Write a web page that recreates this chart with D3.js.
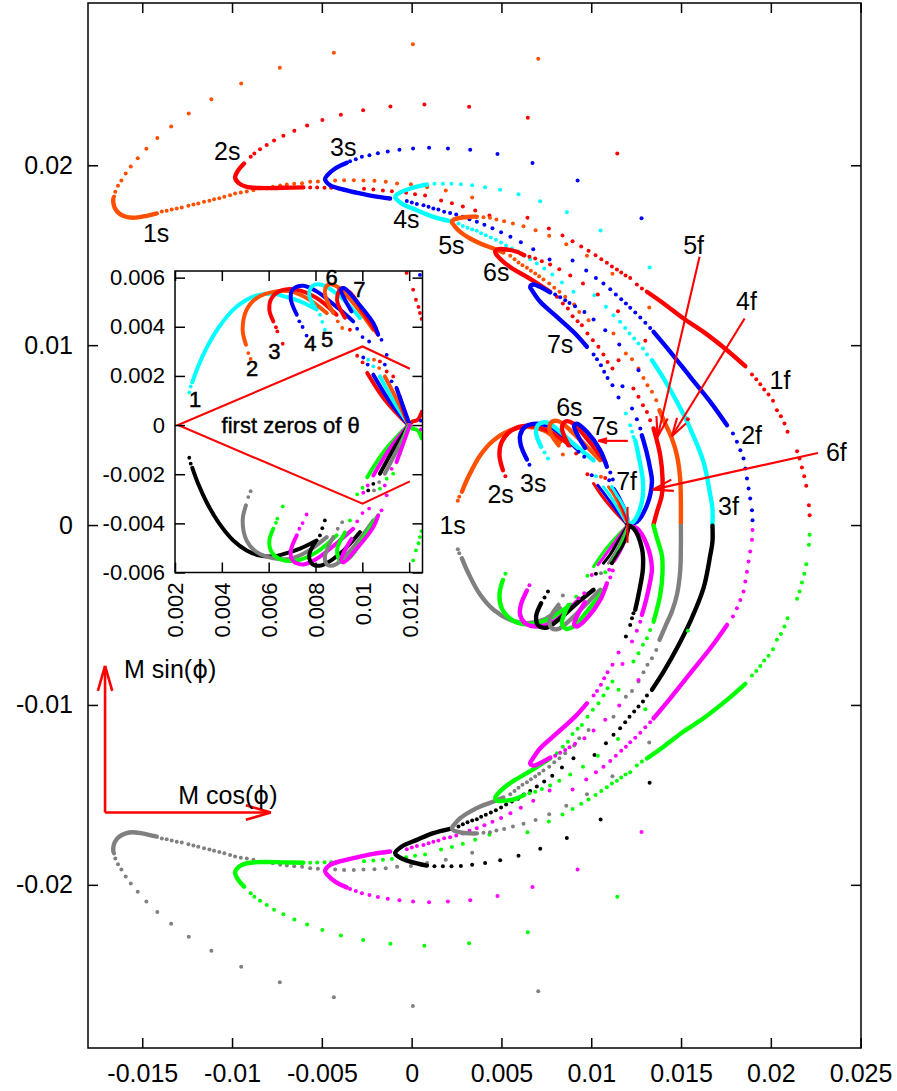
<!DOCTYPE html>
<html>
<head>
<meta charset="utf-8">
<style>
html, body { margin: 0; padding: 0; background: #fff; }
text { font-family: "Liberation Sans", Arial, sans-serif; fill: #000; }
</style>
<script src="https://cdn.jsdelivr.net/npm/d3@7"></script>
</head>
<body>
<div id="vis"></div>
<script>
const xTicks = [-15, -10, -5, 0, 5, 10, 15, 20, 25];
const yTicks = [-20, -10, 0, 10, 20];
const insetXTicks = [2, 4, 6, 8, 10, 12];
const insetYTicks = [-6, -4, -2, 0, 2, 4, 6];

// upper half, main plot
const orange1Dots = [[7.05,25.92],[0.07,26.73],[-4.33,26.25],[-7.34,25.42],[-9.49,24.55],[-11.15,23.67],[-12.41,22.88],[-13.39,22.16],[-14.16,21.51],[-14.77,20.92],[-15.25,20.39],[-15.64,19.93],[-15.92,19.54],[-16.16,19.15],[-16.35,18.86],[-16.5,18.53],[-16.57,18.26],
  [-13.91,17.43],[-13.64,17.47],[-13.36,17.54],[-13.08,17.6],[-12.8,17.65],[-12.43,17.75],[-12.15,17.82],[-11.88,17.88],[-11.56,17.97],[-11.26,18.03],[-11,18.11],[-10.71,18.17],[-10.43,18.25],[-10.11,18.34],[-9.83,18.43],[-9.51,18.49],[-9.18,18.54],[-8.81,18.61],[-8.07,18.75],[-7.73,18.8],[-7.32,18.88],[-6.95,18.93],[-6.54,18.97],[-6.1,19],[-5.65,19.08],[-5.22,19.1],[-4.26,19.15],[-3.76,19.17],[-3.22,19.17],[-2.68,19.15],[-2.07,19.14],[-1.44,19.08],[-0.81,18.99],[-0.04,18.95],[0.86,18.78],[1.9,18.6],[3.37,18.21]];
const orange1Thick = [[-16.61,18.15],[-16.61,17.93],[-16.54,17.65],[-16.33,17.36],[-15.96,17.15],[-15.5,17.08],[-14.75,17.19],[-14.19,17.32]];
const orange5Dots = [[4,17.11],[4.36,17.08],[4.72,16.98],[5.15,16.89],[5.64,16.76],[6.23,16.61],[6.9,16.39],[7.66,16.08],[8.61,15.61],[9.76,14.97],[11.18,13.97],[13.23,12.09],
  [5.49,14.97],[5.73,14.78],[5.95,14.6],[6.17,14.44],[6.42,14.3],[6.64,14.13],[6.88,13.98],[7.1,13.83],[7.34,13.65],[7.66,13.43],[7.94,13.19],[8.23,12.97],[8.55,12.69],[9.05,12.26],[9.33,11.85],[9.85,11.39],[11.24,10.65],[11.93,9.54],[12.27,9.22],[12.63,8.7],[12.91,8.18],[13.13,7.77],[13.38,7.41],[13.62,6.94]];
const orange5Thick = [[3.63,17.14],[3.26,17.14],[2.7,17.08],[2.34,16.98],[2.24,16.85],[2.37,16.65],[2.7,16.3],[3.26,15.93],[3.82,15.65],[4.56,15.37],[5.11,15.15]];
const orange4fThick = [[13.8,6.38],[14.12,5.64],[14.49,4.81],[14.77,3.88],[14.95,2.59],[14.99,1.29],[14.99,0.03]];

const red2Dots = [[-8.96,20.47],[-8.76,20.66],[-8.44,20.89],[-8.07,21.12],[-7.66,21.38],[-7.14,21.64],[-6.53,21.92],[-5.82,22.21],[-4.97,22.51],[-3.94,22.81],[-2.7,23.06],[-1.18,23.27],[0.71,23.38],[3.2,23.25],[6.47,22.64],[11.45,20.66],
  [-5.65,18.77],[-5.26,18.76],[-4.85,18.75],[-4.48,18.75],[-2.65,18.69],[-2.13,18.65],[-1.6,18.6],[-1.1,18.56],[-0.31,18.47],[0.19,18.39],[0.75,18.32],[1.64,18.04],[2.24,17.89],[2.85,17.71],[3.54,17.49],[4.33,17.21],[6.45,17.08],[7.64,16.48],[8.4,16.09],[8.96,15.78],[9.44,15.49],[9.85,15.25],[10.24,15],[10.56,14.78],[10.87,14.58],[11.15,14.37],[11.43,14.21],[11.67,14.04],[11.91,13.87],[12.17,13.74],[12.54,13.37],[12.82,13.15],
  [18.95,8.37],[19.19,8.11],[19.41,7.83],[19.63,7.53],[19.87,7.26],[20.12,6.91],[20.34,6.38],[20.56,6.05],[20.76,5.64],[20.93,5.18],[21.46,4.1],[21.6,3.7],[21.73,3.2],[21.86,2.71],[21.97,2.18],[22.12,1.1],[22.16,0.54]];
const red2Thick = [[-9.33,20.1],[-9.65,19.73],[-9.83,19.32],[-9.61,18.99],[-9.18,18.8],[-8.25,18.73],[-7.14,18.75],[-6.03,18.77]];
const red1fThick = [[13.1,12.97],[14.03,12.32],[15.14,11.48],[16.25,10.74],[17.56,9.72],[18.58,8.83]];

const blue3Dots = [[-3.43,20.23],[-3.11,20.34],[-2.77,20.47],[-2.35,20.56],[-1.88,20.67],[-1.33,20.77],[-0.68,20.86],[0.08,20.93],[0.97,20.97],[2.02,20.93],[3.26,20.86],[4.78,20.62],[6.73,20.12],[9.24,19.15],[12.8,17.06],
  [-0.27,18.02],[0.01,17.93],[0.29,17.84],[0.66,17.78],[0.94,17.69],[1.21,17.6],[1.49,17.54],[1.81,17.41],[2.14,17.35],[2.48,17.26],[2.85,17.14],[3.22,17],[3.63,16.86],[4.05,16.69],[4.5,16.5],[4.98,16.28],[5.5,16.02],[6.08,15.72],[6.77,15.33],[7.68,14.76],[8.96,14.7],[9.72,14.15],[10.26,13.74],[10.68,13.43],[11.06,13.11],[11.37,12.82],[11.67,12.55],[11.93,12.32],[12.17,12.08],[12.45,11.82],[12.73,11.54],[13.01,11.24],[13.28,10.96],
  [17.89,5.09],[18.11,4.63],[18.3,4.16],[18.48,3.7],[18.58,3.14],[18.67,2.59],[18.76,2.03],[18.85,1.47],[18.95,0.82],[18.98,0.27]];
const blue3Thick = [[-3.61,20.14],[-4.26,19.82],[-4.69,19.45],[-4.82,19.23],[-4.54,18.89],[-3.89,18.67],[-3.05,18.47],[-2.13,18.28],[-1.2,18.15]];
const blue2fThick = [[13.47,10.74],[14.4,9.63],[15.51,8.24],[16.63,6.85],[17.56,5.55]];

const cyan4Dots = [[1.27,18.97],[1.74,18.97],[2.22,18.97],[2.74,18.95],[3.37,18.89],[4.09,18.78],[4.93,18.64],[5.95,18.39],[7.16,18],[8.64,17.39],[10.52,16.37],[13.25,14.32],
  [2.61,16.76],[2.85,16.63],[3.11,16.52],[3.37,16.43],[3.63,16.36],[3.87,16.22],[4.13,16.11],[4.41,15.98],[4.69,15.86],[4.98,15.7],[5.26,15.54],[5.58,15.37],[5.93,15.21],[6.25,14.98],[6.6,14.78],[6.97,14.54],[7.38,14.26],[7.83,13.93],[8.37,13.48],[9.01,12.97],[10.18,12.78],[10.82,12.13],[11.24,11.66],[11.61,11.3],[11.89,10.96],[12.13,10.65],[12.39,10.37],[12.63,10.09],[12.88,9.81],[13.1,9.48]];
const cyan4Thick = [[0.85,18.93],[-0.08,18.71],[-0.74,18.43],[-0.92,18.25],[-0.55,17.87],[0.29,17.5],[1.21,17.13],[2.14,16.89]];
const cyan3fThick = [[13.38,9.16],[14.03,8.15],[14.77,6.85],[15.51,5.37],[16.25,3.51],[16.63,1.66],[16.75,0.92],[16.75,0.03]];

const red6Dots = [[6.56,14.91],[6.88,14.82],[7.25,14.67],[7.71,14.48],[8.22,14.22],[8.83,13.87],[9.54,13.43],[10.37,12.82],[11.49,11.89],[13.01,10.24],[15.38,5.88],
  [8.09,12.69],[8.42,12.32],[8.7,12.04],[8.96,11.61],[9.24,11.33],[9.48,11.11],[9.79,10.65],[10.09,10.27],[10.4,9.91],[10.68,9.48],[10.91,9.07],[11.18,8.7],[11.52,9.16],[12.35,7.59],[12.63,7.13],[12.88,6.66],[13.1,6.29],[13.28,5.83]];
const red6Thick = [[6.27,15],[5.86,15.19],[5.3,15.32],[4.76,15.32],[4.65,15.19],[4.76,14.98],[5.11,14.63],[5.67,14.22],[6.51,13.74],[7.71,12.97]];
const red6fThick = [[13.47,5.37],[13.84,3.88],[13.97,2.59],[13.93,1.66],[13.66,0.73],[13.47,0.03]];

const blue7Dots = [[7.99,12.82],[8.27,12.66],[8.55,12.5],[8.79,12.35],[9.1,12.16],[9.62,11.85],[10.13,11.42],[10.78,10.83],[11.56,10.03],[12.63,8.61],
  [10.13,9.48],[10.32,9.22],[10.54,8.88],[10.72,8.52],[10.91,8.18],[11.18,7.77],[11.74,7.72],[11.52,7.09],[12.27,6.48],[12.54,5.88],[12.73,5.37]];
const blue7Thick = [[7.71,12.93],[7.25,13.19],[6.78,13.37],[6.6,13.24],[6.71,13.04],[7.16,12.41],[8.09,11.57],[9.1,10.65],[9.76,9.91]];
const blue7fThick = [[12.82,4.99],[13.06,4.14],[13.28,3.14],[13.38,2.4],[13.1,1.1],[12.54,0.18],[12.06,0.03]];

const cyanInnerDots = [[11.93,6.2],[12.17,5.55],[12.27,5.18],[12.35,4.9]];
const cyanInnerThick = [[12.45,4.71],[12.63,3.88],[12.88,2.4],[12.82,1.29],[12.35,0.18],[11.99,0]];

// lower half, main plot
const gray1Dots = [[7.05,-25.92],[0.07,-26.73],[-4.33,-26.25],[-7.34,-25.42],[-9.49,-24.55],[-11.15,-23.67],[-12.41,-22.88],[-13.39,-22.16],[-14.16,-21.51],[-14.77,-20.92],[-15.25,-20.39],[-15.64,-19.93],[-15.92,-19.54],[-16.16,-19.15],[-16.35,-18.86],[-16.5,-18.53],[-16.57,-18.26],
  [-13.91,-17.43],[-13.64,-17.47],[-13.36,-17.54],[-13.08,-17.6],[-12.8,-17.65],[-12.43,-17.75],[-12.15,-17.82],[-11.88,-17.88],[-11.56,-17.97],[-11.26,-18.03],[-11,-18.11],[-10.71,-18.17],[-10.43,-18.25],[-10.11,-18.34],[-9.83,-18.43],[-9.51,-18.49],[-9.18,-18.54],[-8.81,-18.61],[-8.07,-18.75],[-7.73,-18.8],[-7.32,-18.88],[-6.95,-18.93],[-6.54,-18.97],[-6.1,-19],[-5.65,-19.08],[-5.22,-19.1],[-4.26,-19.15],[-3.76,-19.17],[-3.22,-19.17],[-2.68,-19.15],[-2.07,-19.14],[-1.44,-19.08],[-0.81,-18.99],[-0.04,-18.95],[0.86,-18.78],[1.9,-18.6],[3.37,-18.21]];
const gray1Thick = [[-16.61,-18.15],[-16.61,-17.93],[-16.54,-17.65],[-16.33,-17.36],[-15.96,-17.15],[-15.5,-17.08],[-14.75,-17.19],[-14.19,-17.32]];
const gray5Dots = [[4,-17.11],[4.36,-17.08],[4.72,-16.98],[5.15,-16.89],[5.64,-16.76],[6.23,-16.61],[6.9,-16.39],[7.66,-16.08],[8.61,-15.61],[9.76,-14.97],[11.18,-13.97],[13.23,-12.09],
  [5.49,-14.97],[5.73,-14.78],[5.95,-14.6],[6.17,-14.44],[6.42,-14.3],[6.64,-14.13],[6.88,-13.98],[7.1,-13.83],[7.34,-13.65],[7.66,-13.43],[7.94,-13.19],[8.23,-12.97],[8.55,-12.69],[9.05,-12.26],[9.33,-11.85],[9.85,-11.39],[11.24,-10.65],[11.93,-9.54],[12.27,-9.22],[12.63,-8.7],[12.91,-8.18],[13.13,-7.77],[13.38,-7.41],[13.62,-6.94]];
const gray5Thick = [[3.63,-17.14],[3.26,-17.14],[2.7,-17.08],[2.34,-16.98],[2.24,-16.85],[2.37,-16.65],[2.7,-16.3],[3.26,-15.93],[3.82,-15.65],[4.56,-15.37],[5.11,-15.15]];
const gray4fThick = [[13.8,-6.38],[14.12,-5.64],[14.49,-4.81],[14.77,-3.88],[14.95,-2.59],[14.99,-1.29],[14.99,-0.03]];

const green2Dots = [[-8.96,-20.47],[-8.76,-20.66],[-8.44,-20.89],[-8.07,-21.12],[-7.66,-21.38],[-7.14,-21.64],[-6.53,-21.92],[-5.82,-22.21],[-4.97,-22.51],[-3.94,-22.81],[-2.7,-23.06],[-1.18,-23.27],[0.71,-23.38],[3.2,-23.25],[6.47,-22.64],[11.45,-20.66],
  [-5.65,-18.77],[-5.26,-18.76],[-4.85,-18.75],[-4.48,-18.75],[-2.65,-18.69],[-2.13,-18.65],[-1.6,-18.6],[-1.1,-18.56],[-0.31,-18.47],[0.19,-18.39],[0.75,-18.32],[1.64,-18.04],[2.24,-17.89],[2.85,-17.71],[3.54,-17.49],[4.33,-17.21],[6.45,-17.08],[7.64,-16.48],[8.4,-16.09],[8.96,-15.78],[9.44,-15.49],[9.85,-15.25],[10.24,-15],[10.56,-14.78],[10.87,-14.58],[11.15,-14.37],[11.43,-14.21],[11.67,-14.04],[11.91,-13.87],[12.17,-13.74],[12.54,-13.37],[12.82,-13.15],
  [18.95,-8.37],[19.19,-8.11],[19.41,-7.83],[19.63,-7.53],[19.87,-7.26],[20.12,-6.91],[20.34,-6.38],[20.56,-6.05],[20.76,-5.64],[20.93,-5.18],[21.46,-4.1],[21.6,-3.7],[21.73,-3.2],[21.86,-2.71],[21.97,-2.18],[22.12,-1.1],[22.16,-0.54]];
const green2Thick = [[-9.33,-20.1],[-9.65,-19.73],[-9.83,-19.32],[-9.61,-18.99],[-9.18,-18.8],[-8.25,-18.73],[-7.14,-18.75],[-6.03,-18.77]];
const green1fThick = [[13.1,-12.97],[14.03,-12.32],[15.14,-11.48],[16.25,-10.74],[17.56,-9.72],[18.58,-8.83]];

const magenta3Dots = [[-3.43,-20.23],[-3.11,-20.34],[-2.77,-20.47],[-2.35,-20.56],[-1.88,-20.67],[-1.33,-20.77],[-0.68,-20.86],[0.08,-20.93],[0.97,-20.97],[2.02,-20.93],[3.26,-20.86],[4.78,-20.62],[6.73,-20.12],[9.24,-19.15],[12.8,-17.06],
  [-0.27,-18.02],[0.01,-17.93],[0.29,-17.84],[0.66,-17.78],[0.94,-17.69],[1.21,-17.6],[1.49,-17.54],[1.81,-17.41],[2.14,-17.35],[2.48,-17.26],[2.85,-17.14],[3.22,-17],[3.63,-16.86],[4.05,-16.69],[4.5,-16.5],[4.98,-16.28],[5.5,-16.02],[6.08,-15.72],[6.77,-15.33],[7.68,-14.76],[8.96,-14.7],[9.72,-14.15],[10.26,-13.74],[10.68,-13.43],[11.06,-13.11],[11.37,-12.82],[11.67,-12.55],[11.93,-12.32],[12.17,-12.08],[12.45,-11.82],[12.73,-11.54],[13.01,-11.24],[13.28,-10.96],
  [17.89,-5.09],[18.11,-4.63],[18.3,-4.16],[18.48,-3.7],[18.58,-3.14],[18.67,-2.59],[18.76,-2.03],[18.85,-1.47],[18.95,-0.82],[18.98,-0.27]];
const magenta3Thick = [[-3.61,-20.14],[-4.26,-19.82],[-4.69,-19.45],[-4.82,-19.23],[-4.54,-18.89],[-3.89,-18.67],[-3.05,-18.47],[-2.13,-18.28],[-1.2,-18.15]];
const magenta2fThick = [[13.47,-10.74],[14.4,-9.63],[15.51,-8.24],[16.63,-6.85],[17.56,-5.55]];

const black4Dots = [[1.27,-18.97],[1.74,-18.97],[2.22,-18.97],[2.74,-18.95],[3.37,-18.89],[4.09,-18.78],[4.93,-18.64],[5.95,-18.39],[7.16,-18],[8.64,-17.39],[10.52,-16.37],[13.25,-14.32],
  [2.61,-16.76],[2.85,-16.63],[3.11,-16.52],[3.37,-16.43],[3.63,-16.36],[3.87,-16.22],[4.13,-16.11],[4.41,-15.98],[4.69,-15.86],[4.98,-15.7],[5.26,-15.54],[5.58,-15.37],[5.93,-15.21],[6.25,-14.98],[6.6,-14.78],[6.97,-14.54],[7.38,-14.26],[7.83,-13.93],[8.37,-13.48],[9.01,-12.97],[10.18,-12.78],[10.82,-12.13],[11.24,-11.66],[11.61,-11.3],[11.89,-10.96],[12.13,-10.65],[12.39,-10.37],[12.63,-10.09],[12.88,-9.81],[13.1,-9.48]];
const black4Thick = [[0.85,-18.93],[-0.08,-18.71],[-0.74,-18.43],[-0.92,-18.25],[-0.55,-17.87],[0.29,-17.5],[1.21,-17.13],[2.14,-16.89]];
const black3fThick = [[13.38,-9.16],[14.03,-8.15],[14.77,-6.85],[15.51,-5.37],[16.25,-3.51],[16.63,-1.66],[16.75,-0.92],[16.75,-0.03]];

const green6Dots = [[6.56,-14.91],[6.88,-14.82],[7.25,-14.67],[7.71,-14.48],[8.22,-14.22],[8.83,-13.87],[9.54,-13.43],[10.37,-12.82],[11.49,-11.89],[13.01,-10.24],[15.38,-5.88],
  [8.09,-12.69],[8.42,-12.32],[8.7,-12.04],[8.96,-11.61],[9.24,-11.33],[9.48,-11.11],[9.79,-10.65],[10.09,-10.27],[10.4,-9.91],[10.68,-9.48],[10.91,-9.07],[11.18,-8.7],[11.52,-9.16],[12.35,-7.59],[12.63,-7.13],[12.88,-6.66],[13.1,-6.29],[13.28,-5.83]];
const green6Thick = [[6.27,-15],[5.86,-15.19],[5.3,-15.32],[4.76,-15.32],[4.65,-15.19],[4.76,-14.98],[5.11,-14.63],[5.67,-14.22],[6.51,-13.74],[7.71,-12.97]];
const green6fThick = [[13.47,-5.37],[13.84,-3.88],[13.97,-2.59],[13.93,-1.66],[13.66,-0.73],[13.47,-0.03]];

const magenta7Dots = [[7.99,-12.82],[8.27,-12.66],[8.55,-12.5],[8.79,-12.35],[9.1,-12.16],[9.62,-11.85],[10.13,-11.42],[10.78,-10.83],[11.56,-10.03],[12.63,-8.61],
  [10.13,-9.48],[10.32,-9.22],[10.54,-8.88],[10.72,-8.52],[10.91,-8.18],[11.18,-7.77],[11.74,-7.72],[11.52,-7.09],[12.27,-6.48],[12.54,-5.88],[12.73,-5.37]];
const magenta7Thick = [[7.71,-12.93],[7.25,-13.19],[6.78,-13.37],[6.6,-13.24],[6.71,-13.04],[7.16,-12.41],[8.09,-11.57],[9.1,-10.65],[9.76,-9.91]];
const magenta7fThick = [[12.82,-4.99],[13.06,-4.14],[13.28,-3.14],[13.38,-2.4],[13.1,-1.1],[12.54,-0.18],[12.06,-0.03]];

const blackInnerDots = [[11.93,-6.2],[12.17,-5.55],[12.27,-5.18],[12.35,-4.9]];
const blackInnerThick = [[12.45,-4.71],[12.63,-3.88],[12.88,-2.4],[12.82,-1.29],[12.35,-0.18],[11.99,0]];

// small spiral near the centre of the main plot, first zeros
const spiralUpper = [
  {color: "orange", dots: [[2.57,1.35],[2.65,1.57]], thick: [[2.8,1.85],[3.16,2.68],[3.82,3.88],[4.56,4.71],[5.49,5.27],[6.42,5.46],[7.34,5.27],[8.27,4.63]]},
  {color: "red", dots: [[5.22,2.71]], thick: [[5.08,3.05],[4.89,3.88],[5.02,4.63],[5.58,5.27],[6.42,5.52],[7.53,5.27],[8.83,4.44]]},
  {color: "blue", dots: [[6.56,3.35]], thick: [[6.42,3.64],[6.08,4.44],[6.04,4.99],[6.32,5.46],[6.97,5.64],[7.9,5.37],[9.2,4.25]]},
  {color: "cyan", dots: [[7.59,3.7],[7.4,4.03]], thick: [[7.21,4.35],[6.93,5.09],[7.06,5.59],[7.53,5.7],[8.27,5.18],[9.2,4.35],[10.13,3.6]]},
  {color: "orange", dots: [[8.42,3.92]], thick: [[8.18,4.44],[7.68,5.27],[7.81,5.74],[8.18,5.77],[8.83,5.27],[9.76,4.35],[10.5,3.6]]},
  {color: "red", dots: [[9.16,3.98]], thick: [[8.73,4.44],[8.37,5.46],[8.61,5.77],[9.01,5.64],[9.76,4.81],[10.78,3.51]]},
  {color: "blue", dots: [[9.29,4.07],[9.61,3.79],[11.06,2.92],[11.2,2.53]], thick: [[9.66,4.29],[9.29,4.9],[9.05,5.52],[9.2,5.64],[9.76,5.18],[10.5,4.16],[10.87,3.24]]}
];
const fanUpper = [
  {color: "red", dots: [[9.79,2.82]], thick: [[10.13,2.31],[10.5,1.75],[11.16,0.92],[11.95,0.08]]},
  {color: "blue", dots: [[10.03,2.77]], thick: [[10.37,2.21],[10.72,1.75],[11.33,0.92],[11.97,0.08]]},
  {color: "cyan", dots: [[10.26,2.71]], thick: [[10.68,2.12],[11.05,1.64],[11.55,0.81],[12,0.08]]},
  {color: "orange", dots: [[10.54,2.68]], thick: [[10.96,2.12],[11.28,1.64],[11.7,0.81],[12.03,0.08]]},
  {color: "red", dots: [[10.78,2.62]], thick: [[11.16,2.03],[11.5,1.47],[11.84,0.7],[12.06,0.08]]},
  {color: "blue", dots: [[11,2.49]], thick: [[11.28,2.03],[11.61,1.47],[11.95,0.7],[12.08,0.08]]},
  {color: "cyan", dots: [[11.15,2.12]], thick: [[11.15,2.12],[11.43,1.66],[11.72,1.2],[12,0.58],[12.11,0.08]]}
];
const spiralLower = [
  {color: "gray", dots: [[2.57,-1.35],[2.65,-1.57]], thick: [[2.8,-1.85],[3.16,-2.68],[3.82,-3.88],[4.56,-4.71],[5.49,-5.27],[6.42,-5.46],[7.34,-5.27],[8.27,-4.63]]},
  {color: "green", dots: [[5.22,-2.71]], thick: [[5.08,-3.05],[4.89,-3.88],[5.02,-4.63],[5.58,-5.27],[6.42,-5.52],[7.53,-5.27],[8.83,-4.44]]},
  {color: "magenta", dots: [[6.56,-3.35]], thick: [[6.42,-3.64],[6.08,-4.44],[6.04,-4.99],[6.32,-5.46],[6.97,-5.64],[7.9,-5.37],[9.2,-4.25]]},
  {color: "black", dots: [[7.59,-3.7],[7.4,-4.03]], thick: [[7.21,-4.35],[6.93,-5.09],[7.06,-5.59],[7.53,-5.7],[8.27,-5.18],[9.2,-4.35],[10.13,-3.6]]},
  {color: "gray", dots: [[8.42,-3.92]], thick: [[8.18,-4.44],[7.68,-5.27],[7.81,-5.74],[8.18,-5.77],[8.83,-5.27],[9.76,-4.35],[10.5,-3.6]]},
  {color: "green", dots: [[9.16,-3.98]], thick: [[8.73,-4.44],[8.37,-5.46],[8.61,-5.77],[9.01,-5.64],[9.76,-4.81],[10.78,-3.51]]},
  {color: "magenta", dots: [[9.29,-4.07],[9.61,-3.79],[11.06,-2.92],[11.2,-2.53]], thick: [[9.66,-4.29],[9.29,-4.9],[9.05,-5.52],[9.2,-5.64],[9.76,-5.18],[10.5,-4.16],[10.87,-3.24]]}
];
const fanLower = [
  {color: "green", dots: [[9.79,-2.82]], thick: [[10.13,-2.31],[10.5,-1.75],[11.16,-0.92],[11.95,-0.08]]},
  {color: "magenta", dots: [[10.03,-2.77]], thick: [[10.37,-2.21],[10.72,-1.75],[11.33,-0.92],[11.97,-0.08]]},
  {color: "black", dots: [[10.26,-2.71]], thick: [[10.68,-2.12],[11.05,-1.64],[11.55,-0.81],[12,-0.08]]},
  {color: "gray", dots: [[10.54,-2.68]], thick: [[10.96,-2.12],[11.28,-1.64],[11.7,-0.81],[12.03,-0.08]]},
  {color: "green", dots: [[10.78,-2.62]], thick: [[11.16,-2.03],[11.5,-1.47],[11.84,-0.7],[12.06,-0.08]]},
  {color: "magenta", dots: [[11,-2.49]], thick: [[11.28,-2.03],[11.61,-1.47],[11.95,-0.7],[12.08,-0.08]]},
  {color: "black", dots: [[11.15,-2.12]], thick: [[11.15,-2.12],[11.43,-1.66],[11.72,-1.2],[12,-0.58],[12.11,-0.08]]}
];

// inset
const insetUpper = [
  {color: "cyan", dots: [[2.61,1.33],[2.67,1.57]], thick: [[2.74,1.74],[2.99,2.39],[3.35,3.14],[3.85,3.95],[4.49,4.7],[5.06,5.1],[5.63,5.31],[6.2,5.34],[6.77,5.21],[7.34,5.03],[8.05,4.7]]},
  {color: "orange", dots: [[5.23,2.69],[5.13,2.93]], thick: [[5.03,3.27],[4.89,3.88],[5.06,4.7],[5.49,5.17],[6.2,5.42],[6.91,5.44],[7.62,5.17],[8.48,4.56]]},
  {color: "red", dots: [[6.6,3.31],[6.37,3.81],[6.31,3.98]], thick: [[6.2,4.22],[6.03,4.7],[6.13,5.17],[6.55,5.48],[7.2,5.51],[8.05,5.17],[8.9,4.49]]},
  {color: "blue", dots: [[7.62,3.64],[7.45,3.99],[7.31,4.22]], thick: [[7.2,4.49],[6.94,5.17],[7.05,5.54],[7.48,5.67],[8.05,5.44],[9.04,4.7],[9.61,4.22]]},
  {color: "cyan", dots: [[8.4,3.88],[8.29,4.2],[8.19,4.49]], thick: [[7.98,4.78],[7.73,5.31],[7.88,5.67],[8.26,5.71],[9.04,5.24],[9.9,4.36]]},
  {color: "orange", dots: [[9.14,3.95],[8.95,4.22]], thick: [[8.76,4.56],[8.4,5.38],[8.54,5.71],[8.9,5.65],[9.61,4.97],[10.47,3.88]]},
  {color: "red", dots: [[9.47,3.88]], thick: [[9.26,4.37],[8.92,5.1],[9.09,5.55],[9.47,5.39],[10.11,4.49],[10.67,3.68]]},
  {color: "blue", dots: [[10.82,3.47],[11.04,2.86],[9.78,3.92],[10.01,3.58],[10.29,3.4]], thick: [[9.54,4.63],[9.33,4.97],[9.09,5.51],[9.21,5.58],[9.76,5.03],[10.47,4.15],[10.68,3.68]]},
  {color: "red", dots: [[9.78,2.82],[10.01,2.55],[11.89,6.19],[12.17,5.51],[12.29,5.1],[12.4,4.81],[12.46,4.56],[12.53,4.32]], thick: [[10.21,2.12],[10.96,1.03],[11.96,0]]},
  {color: "blue", dots: [[10.04,2.75],[10.23,2.46],[12.46,6.11]], thick: [[10.47,2.05],[11.18,0.95],[11.98,0]]},
  {color: "cyan", dots: [[10.25,2.66],[10.47,2.39]], thick: [[10.75,1.98],[11.35,0.95],[12,0]]},
  {color: "orange", dots: [[10.5,2.66],[10.72,2.32]], thick: [[10.96,1.98],[11.52,0.95],[12.01,0]]},
  {color: "red", dots: [[10.75,2.59],[11.04,2.18],[11.32,1.98]], thick: [[11.6,1.16],[12.01,0],[12.12,0.13],[12.37,0.22],[12.54,0.54]]},
  {color: "blue", dots: [[10.96,2.46],[11.25,1.78],[12.5,0.18]], thick: [[11.46,1.51],[12.03,0]]}
];
const insetLower = [
  {color: "black", dots: [[2.61,-1.33],[2.67,-1.57]], thick: [[2.74,-1.74],[2.99,-2.39],[3.35,-3.14],[3.85,-3.95],[4.49,-4.7],[5.06,-5.1],[5.63,-5.31],[6.2,-5.34],[6.77,-5.21],[7.34,-5.03],[8.05,-4.7]]},
  {color: "gray", dots: [[5.23,-2.69],[5.13,-2.93]], thick: [[5.03,-3.27],[4.89,-3.88],[5.06,-4.7],[5.49,-5.17],[6.2,-5.42],[6.91,-5.44],[7.62,-5.17],[8.48,-4.56]]},
  {color: "green", dots: [[6.6,-3.31],[6.37,-3.81],[6.31,-3.98]], thick: [[6.2,-4.22],[6.03,-4.7],[6.13,-5.17],[6.55,-5.48],[7.2,-5.51],[8.05,-5.17],[8.9,-4.49]]},
  {color: "magenta", dots: [[7.62,-3.64],[7.45,-3.99],[7.31,-4.22]], thick: [[7.2,-4.49],[6.94,-5.17],[7.05,-5.54],[7.48,-5.67],[8.05,-5.44],[9.04,-4.7],[9.61,-4.22]]},
  {color: "black", dots: [[8.4,-3.88],[8.29,-4.2],[8.19,-4.49]], thick: [[7.98,-4.78],[7.73,-5.31],[7.88,-5.67],[8.26,-5.71],[9.04,-5.24],[9.9,-4.36]]},
  {color: "gray", dots: [[9.14,-3.95],[8.95,-4.22]], thick: [[8.76,-4.56],[8.4,-5.38],[8.54,-5.71],[8.9,-5.65],[9.61,-4.97],[10.47,-3.88]]},
  {color: "green", dots: [[9.47,-3.88]], thick: [[9.26,-4.37],[8.92,-5.1],[9.09,-5.55],[9.47,-5.39],[10.11,-4.49],[10.67,-3.68]]},
  {color: "magenta", dots: [[10.82,-3.47],[11.04,-2.86],[9.78,-3.92],[10.01,-3.58],[10.29,-3.4]], thick: [[9.54,-4.63],[9.33,-4.97],[9.09,-5.51],[9.21,-5.58],[9.76,-5.03],[10.47,-4.15],[10.68,-3.68]]},
  {color: "green", dots: [[9.78,-2.82],[10.01,-2.55],[12.17,-5.51],[12.29,-5.1],[12.4,-4.81],[12.46,-4.56],[12.53,-4.32]], thick: [[10.21,-2.12],[10.96,-1.03],[11.96,0]]},
  {color: "magenta", dots: [[10.04,-2.75],[10.23,-2.46]], thick: [[10.47,-2.05],[11.18,-0.95],[11.98,0]]},
  {color: "black", dots: [[10.25,-2.66],[10.47,-2.39]], thick: [[10.75,-1.98],[11.35,-0.95],[12,0]]},
  {color: "gray", dots: [[10.5,-2.66],[10.72,-2.32]], thick: [[10.96,-1.98],[11.52,-0.95],[12.01,0]]},
  {color: "green", dots: [[10.75,-2.59],[11.04,-2.18],[11.32,-1.98]], thick: [[11.6,-1.16],[12.01,0],[12.12,-0.13],[12.37,-0.22],[12.54,-0.54]]},
  {color: "magenta", dots: [[10.96,-2.46],[11.25,-1.78],[12.5,-0.18]], thick: [[11.46,-1.51],[12.03,0]]}
];

// annotations: [text, x, y] in axis units
const mainLabels = [["1s",-14.96,15.76],["2s",-11,20.32],["3s",-4.54,20.54],["4s",-1.03,16.54],["5s",1.48,15.04],["6s",3.98,13.54],["7s",7.53,9.54],
  ["5f",15.12,15.04],["4f",18.06,11.94],["1f",19.93,7.59],["2f",18.35,4.53],["6f",23.07,3.55],["3f",17.06,0.54],
  ["6s",8.05,6.05],["7s",10.04,5.03],["7f",11.39,1.93],["2s",4.22,1.2],["3s",6.04,1.81],["1s",1.55,-0.47]];
const insetLabels = [["1",2.6,0.72],["2",5.03,1.98],["3",5.98,2.7],["4",7.52,3],["5",8.23,3.18],["6",8.43,5.71],["7",9.61,5.21]];
const insetNoteX = 3.99, insetNoteY = -0.31;
const insetVee = [[[12.03,2.29],[10.01,3.2],[2.13,0],[10.01,-3.2],[12.03,-2.29]]];
// [x1, y1, x2, y2, head length]
const arrows = [[16.03,14.91,13.69,4.9,21],[18.54,11.48,14.49,4.94,19],[22.62,4.01,13.43,1.97,21],[12.04,4.68,10.4,4.68,9],[12.02,1.01,12.02,-0.99,0]];
const axisArrows = [[-17.07,-15.98,-17.07,-7.83,26],[-17.07,-15.98,-7.84,-15.98,26]];

const WIDTH = 897, HEIGHT = 1091;
const BOX = {left: 88, right: 861, top: 3, bottom: 1048};
const INSET = {left: 175, right: 422.5, top: 271, bottom: 572.5};
const colors = {orange: "#ff4f00", red: "#ff0000", blue: "#0000ff", cyan: "#00ffff", gray: "#808080", green: "#00ff00", magenta: "#ff00ff", black: "#000000"};

const svg = d3.select("#vis").append("svg")
    .attr("width", WIDTH).attr("height", HEIGHT)
    .style("display", "block");

const X_SCALE = d3.scaleLinear().domain([-18.02, 25.02]).range([BOX.left, BOX.right]);
const Y_SCALE = d3.scaleLinear().domain([-29.07, 29.02]).range([BOX.bottom, BOX.top]);
const X_INSET = d3.scaleLinear().domain([2, 12.57]).range([INSET.left, INSET.right]);
const Y_INSET = d3.scaleLinear().domain([-6, 6.27]).range([INSET.bottom, INSET.top]);

function drawFrame(g, x, y, box, xt, yt, size, tick) {
  g.append("rect").attr("x", box.left).attr("y", box.top)
    .attr("width", box.right - box.left).attr("height", box.bottom - box.top)
    .attr("fill", "none").attr("stroke", "#000").attr("stroke-width", 1.5);
  const fmt = (d) => d / 1000;
  const bottom = g.append("g").attr("transform", "translate(0," + box.bottom + ")")
    .call(d3.axisBottom(x).tickValues(xt).tickSize(-tick).tickSizeOuter(0).tickFormat(fmt));
  g.append("g").attr("transform", "translate(0," + box.top + ")")
    .call(d3.axisTop(x).tickValues(xt).tickSize(-tick).tickSizeOuter(0).tickFormat(""));
  const left = g.append("g").attr("transform", "translate(" + box.left + ",0)")
    .call(d3.axisLeft(y).tickValues(yt).tickSize(-tick).tickSizeOuter(0).tickFormat(fmt));
  g.append("g").attr("transform", "translate(" + box.right + ",0)")
    .call(d3.axisRight(y).tickValues(yt).tickSize(-tick).tickSizeOuter(0).tickFormat(""));
  g.selectAll(".domain").remove();
  g.selectAll(".tick line").attr("stroke", "#000").attr("stroke-width", 1.5);
  g.selectAll(".tick text").attr("font-size", size).attr("font-family", "Liberation Sans").attr("fill", "#000");
  return {bottom, left};
}

function drawSeries(g, x, y, list, thickWidth, r) {
  const line = d3.line().x((d) => x(d[0])).y((d) => y(d[1])).curve(d3.curveCatmullRom);
  list.forEach((s) => {
    g.selectAll(null).data(s.dots).enter().append("circle")
        .attr("cx", (d) => x(d[0]))
        .attr("cy", (d) => y(d[1]))
        .attr("r", r)
        .attr("fill", colors[s.color]);
    (s.thick || []).forEach((t) => {
      g.append("path").attr("d", line(t)).attr("fill", "none")
        .attr("stroke", colors[s.color]).attr("stroke-width", thickWidth)
        .attr("stroke-linecap", "round");
    });
  });
}

function drawArrow(g, a, width) {
  const x1 = X_SCALE(a[0]), y1 = Y_SCALE(a[1]), x2 = X_SCALE(a[2]), y2 = Y_SCALE(a[3]);
  g.append("line").attr("x1", x1).attr("y1", y1).attr("x2", x2).attr("y2", y2)
    .attr("stroke", "#ff0000").attr("stroke-width", width);
  if (!a[4]) return;
  const ang = Math.atan2(y1 - y2, x1 - x2), spread = 0.28, len = a[4];
  [-spread, spread].forEach((s) => {
    g.append("line").attr("x1", x2).attr("y1", y2)
      .attr("x2", x2 + len * Math.cos(ang + s)).attr("y2", y2 + len * Math.sin(ang + s))
      .attr("stroke", "#ff0000").attr("stroke-width", width);
  });
}

// main plot
const main = svg.append("g");
const mainAxes = drawFrame(main, X_SCALE, Y_SCALE, BOX, xTicks, yTicks, 25, 10);
mainAxes.bottom.selectAll("text").attr("y", 16);
mainAxes.left.selectAll("text").attr("x", -15);

const plot = main.append("g");
drawSeries(plot, X_SCALE, Y_SCALE, [
  {color: "orange", dots: orange1Dots, thick: [orange1Thick]},
  {color: "red", dots: red2Dots, thick: [red2Thick, red1fThick]},
  {color: "blue", dots: blue3Dots, thick: [blue3Thick, blue2fThick]},
  {color: "cyan", dots: cyan4Dots, thick: [cyan4Thick, cyan3fThick]},
  {color: "orange", dots: orange5Dots, thick: [orange5Thick, orange4fThick]},
  {color: "red", dots: red6Dots, thick: [red6Thick, red6fThick]},
  {color: "blue", dots: blue7Dots, thick: [blue7Thick, blue7fThick]},
  {color: "cyan", dots: cyanInnerDots, thick: [cyanInnerThick]}
], 4.4, 2);
drawSeries(plot, X_SCALE, Y_SCALE, spiralUpper.map((s) => ({color: s.color, dots: s.dots, thick: [s.thick]})), 4.4, 2);
drawSeries(plot, X_SCALE, Y_SCALE, fanUpper.map((s) => ({color: s.color, dots: s.dots, thick: [s.thick]})), 3, 2);
drawSeries(plot, X_SCALE, Y_SCALE, [
  {color: "gray", dots: gray1Dots, thick: [gray1Thick]},
  {color: "green", dots: green2Dots, thick: [green2Thick, green1fThick]},
  {color: "magenta", dots: magenta3Dots, thick: [magenta3Thick, magenta2fThick]},
  {color: "black", dots: black4Dots, thick: [black4Thick, black3fThick]},
  {color: "gray", dots: gray5Dots, thick: [gray5Thick, gray4fThick]},
  {color: "green", dots: green6Dots, thick: [green6Thick, green6fThick]},
  {color: "magenta", dots: magenta7Dots, thick: [magenta7Thick, magenta7fThick]},
  {color: "black", dots: blackInnerDots, thick: [blackInnerThick]}
], 4.4, 2);
drawSeries(plot, X_SCALE, Y_SCALE, spiralLower.map((s) => ({color: s.color, dots: s.dots, thick: [s.thick]})), 4.4, 2);
drawSeries(plot, X_SCALE, Y_SCALE, fanLower.map((s) => ({color: s.color, dots: s.dots, thick: [s.thick]})), 3, 2);

arrows.forEach((a) => drawArrow(main, a, 2.1));
axisArrows.forEach((a) => drawArrow(main, a, 2.6));

main.selectAll(".label").data(mainLabels).enter().append("text")
    .attr("class", "label")
    .attr("x", (d) => X_SCALE(d[1]))
    .attr("y", (d) => Y_SCALE(d[2]))
    .attr("font-size", 25)
    .text((d) => d[0]);

function phiLabel(text, x, y) {
  const t = main.append("text").attr("x", X_SCALE(x)).attr("y", Y_SCALE(y)).attr("font-size", 25);
  t.append("tspan").text(text + "(");
  t.append("tspan").attr("font-family", "DejaVu Sans").attr("font-size", 24).text("\u03d5");
  t.append("tspan").text(")");
}
phiLabel("M sin", -16.01, -8.5);
phiLabel("M cos", -12.99, -15.48);

// inset
const inset = svg.append("g");
inset.append("rect").attr("x", INSET.left).attr("y", INSET.top)
    .attr("width", INSET.right - INSET.left).attr("height", INSET.bottom - INSET.top)
    .attr("fill", "#fff");
svg.append("clipPath").attr("id", "insetClip").append("rect")
    .attr("x", INSET.left).attr("y", INSET.top)
    .attr("width", INSET.right - INSET.left).attr("height", INSET.bottom - INSET.top);
const insetPlot = inset.append("g").attr("clip-path", "url(#insetClip)");
drawSeries(insetPlot, X_INSET, Y_INSET, insetUpper.map((s) => ({color: s.color, dots: s.dots, thick: [s.thick]})), 4, 1.9);
drawSeries(insetPlot, X_INSET, Y_INSET, insetLower.map((s) => ({color: s.color, dots: s.dots, thick: [s.thick]})), 4, 1.9);

const veeLine = d3.line().x((d) => X_INSET(d[0])).y((d) => Y_INSET(d[1]));
inset.selectAll(null).data(insetVee).enter().append("path")
    .attr("d", veeLine).attr("fill", "none")
    .attr("stroke", "#ff0000").attr("stroke-width", 2.1);

const insetAxes = drawFrame(inset, X_INSET, Y_INSET, INSET, insetXTicks, insetYTicks, 22, 10);
insetAxes.left.selectAll("text").attr("x", -10);
insetAxes.bottom.selectAll("text")
    .attr("transform", "rotate(-90)")
    .attr("text-anchor", "end")
    .attr("x", -10).attr("y", 0).attr("dy", "0.36em");

inset.selectAll(".ilabel").data(insetLabels).enter().append("text")
    .attr("class", "ilabel")
    .attr("x", (d) => X_INSET(d[1]))
    .attr("y", (d) => Y_INSET(d[2]))
    .attr("font-size", 22)
    .attr("stroke", "#000").attr("stroke-width", 0.5)
    .text((d) => d[0]);
inset.append("text").attr("x", X_INSET(insetNoteX)).attr("y", Y_INSET(insetNoteY))
    .attr("font-size", 22).attr("stroke", "#000").attr("stroke-width", 0.4)
    .text("first zeros of \u03b8");
</script>
</body>
</html>
